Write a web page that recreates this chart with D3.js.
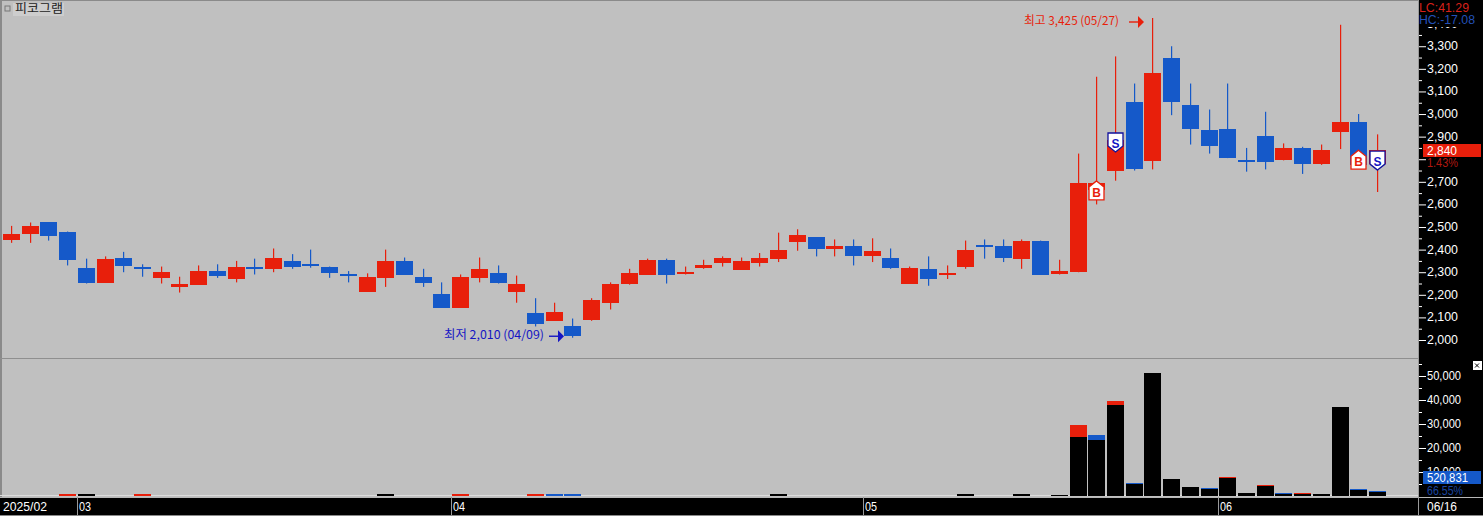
<!DOCTYPE html>
<html><head><meta charset="utf-8">
<style>html,body{margin:0;padding:0;background:#000;overflow:hidden}svg{display:block}
text{font-family:"Liberation Sans",Arial,sans-serif}</style>
<script src="https://cdn.jsdelivr.net/npm/d3@7"></script></head><body><svg id="c" width="1483" height="516"></svg>
<script>
const opens =[2445,2470,2520,2480,2320,2255,2365,2325,2275,2235,2245,2305,2270,2325,2315,2350,2335,2325,2290,2215,2275,2350,2280,2205,2145,2275,2295,2215,2120,2085,2060,2085,2165,2245,2290,2355,2290,2315,2345,2310,2345,2360,2435,2455,2400,2415,2375,2365,2250,2315,2285,2325,2420,2415,2360,2440,2290,2300,2665,2750,3055,2790,3250,3040,2930,2935,2795,2905,2795,2850,2780,2920,2965,2780];
const highs =[2505,2520,2520,2480,2360,2370,2390,2335,2325,2280,2330,2335,2350,2360,2405,2380,2400,2325,2305,2295,2400,2365,2315,2255,2290,2365,2330,2285,2185,2165,2095,2185,2255,2315,2360,2360,2325,2355,2370,2365,2385,2475,2490,2455,2445,2445,2450,2405,2325,2370,2330,2440,2445,2445,2445,2440,2355,2825,3165,3255,3135,3425,3300,3135,3020,3135,2850,3010,2870,2855,2865,3395,3000,2910];
const lows  =[2430,2430,2440,2330,2250,2255,2300,2280,2250,2210,2245,2275,2255,2290,2300,2315,2320,2275,2255,2215,2235,2290,2235,2145,2145,2255,2250,2165,2060,2085,2010,2085,2135,2245,2290,2250,2290,2315,2325,2310,2325,2345,2395,2370,2370,2330,2345,2315,2250,2240,2270,2315,2360,2345,2315,2290,2290,2300,2600,2705,2750,2755,2995,2865,2825,2805,2745,2755,2795,2735,2775,2845,2775,2655];
const closes=[2470,2505,2460,2355,2255,2360,2330,2315,2300,2250,2305,2285,2325,2320,2365,2325,2325,2300,2280,2280,2350,2290,2255,2145,2280,2315,2250,2250,2070,2125,2015,2175,2250,2295,2355,2290,2300,2330,2365,2350,2365,2400,2465,2400,2415,2370,2395,2320,2320,2270,2295,2400,2410,2360,2440,2290,2305,2695,2695,2885,2760,3180,3055,2935,2860,2805,2790,2790,2850,2780,2840,2965,2775,2840];
// volume in thousands: the lower (black) part and the full height with its coloured cap
const volumes=[0.1,0.1,0.1,0,0.8,0.1,0.1,0,0.1,0.1,0.1,0.1,0.1,0.1,0.1,0.1,0.1,0.1,0.1,0.1,0.8,0.1,0.1,0.1,0,0.1,0.1,0.1,0,0,0,0.1,0.1,0.1,0.1,0.1,0.1,0.1,0.1,0.1,0.1,0.8,0.1,0.1,0.1,0.1,0.1,0.1,0.1,0.1,0.1,0.8,0.1,0.1,0.8,0.1,0.4,24.6,23.3,37.9,5.0,51.2,7.1,3.75,2.9,7.4,1.25,4.1,0.8,0.8,0.85,37.1,2.5,1.7];
const volTotals=[0.1,0.1,0.1,0.8,0.8,0.1,0.1,0.8,0.1,0.1,0.1,0.1,0.1,0.1,0.1,0.1,0.1,0.1,0.1,0.1,0.8,0.1,0.1,0.1,0.8,0.1,0.1,0.1,0.8,0.8,0.8,0.1,0.1,0.1,0.1,0.1,0.1,0.1,0.1,0.1,0.1,0.8,0.1,0.1,0.1,0.1,0.1,0.1,0.1,0.1,0.1,0.8,0.1,0.1,0.8,0.1,0.4,29.6,25.4,39.6,5.5,51.2,7.1,3.75,3.35,7.9,1.25,4.6,1.25,1.25,0.85,37.1,2.95,2.15];
const capColors={3:"r",7:"r",24:"r",28:"r",29:"b",30:"b",57:"r",58:"b",59:"r",60:"b",64:"b",65:"r",67:"r",68:"b",69:"r",72:"b",73:"b"};
const priceTicks=[2000,2100,2200,2300,2400,2500,2600,2700,2800,2900,3000,3100,3200,3300,3400];
const priceMinor=[2050,2150,2250,2350,2450,2550,2650,2750,2850,2950,3050,3150,3250,3350];
const volTicks=[10000,20000,30000,40000,50000];
const volMinor=[5000,15000,25000,35000,45000,55000];
const monthIdx=[4,24,46,65];
const monthLabels=["03","04","05","06"];
const signals=[{i:58,t:"B",p:2704},{i:59,t:"S",p:2832},{i:72,t:"B",p:2840},{i:73,t:"S",p:2752}];

const W=1483,AX=1419;
const RED="#e81f0b",BLUE="#1559c9",NAVY="#1515c4";
const svg=d3.select("#c");
const x=d3.scalePoint().domain(d3.range(opens.length)).range([11,1377]);
const y=d3.scaleLinear().domain([2000,3425]).range([340,18]);
const yV=d3.scaleLinear().domain([0,50]).range([496,376]);
const yVt=d3.scaleLinear().domain([0,50000]).range([496,376]);
const T=(g,s,px,py,o={})=>{const e=g.append("text").attr("x",px).attr("y",py).attr("dy","0.35em").text(s)
  .attr("fill",o.fill||"#fff").attr("font-size",o.size||13);
  if(o.len)e.attr("textLength",o.len).attr("lengthAdjust","spacingAndGlyphs");
  if(o.family)e.style("font-family",o.family);if(o.weight)e.attr("font-weight",o.weight);return e;};
const R=(g,a,b,w,h,f)=>g.append("rect").attr("x",a).attr("y",b).attr("width",w).attr("height",h).attr("fill",f);

R(svg,0,0,W,516,"#000");
R(svg,0,0,AX-1,497,"#c0c0c0");
R(svg,0,0,AX-1,1,"#8a8a8a");
R(svg,0,0,2,497,"#8a8a8a");
R(svg,0,358,AX-1,1,"#8f8f8f");
R(svg,0,495,AX-1,1,"#dcdcdc");

// candles
const cg=svg.append("g");
const col=i=>closes[i]>=opens[i]?RED:BLUE;
const cx=i=>Math.round(x(i));
cg.selectAll(".w").data(d3.range(opens.length)).join("rect")
  .attr("x",cx).attr("width",1.2).attr("y",i=>y(highs[i])).attr("height",i=>y(lows[i])-y(highs[i])).attr("fill",col);
cg.selectAll(".b").data(d3.range(opens.length)).join("rect")
  .attr("x",i=>cx(i)-8).attr("width",17)
  .attr("y",i=>Math.round(y(Math.max(opens[i],closes[i]))))
  .attr("height",i=>Math.max(2,Math.round(Math.abs(y(opens[i])-y(closes[i])))))
  .attr("fill",col);

// volume
const vg=svg.append("g");
const vy=v=>Math.round(yV(v));
vg.selectAll(".c").data(d3.range(opens.length).filter(i=>capColors[i])).join("rect")
  .attr("x",i=>cx(i)-8).attr("width",17).attr("y",i=>vy(volTotals[i])).attr("height",i=>yV(0)-vy(volTotals[i]))
  .attr("fill",i=>capColors[i]==="r"?RED:BLUE);
vg.selectAll(".v").data(d3.range(opens.length).filter(i=>volumes[i]>=0.4)).join("rect")
  .attr("x",i=>cx(i)-8).attr("width",17).attr("y",i=>vy(volumes[i])).attr("height",i=>yV(0)-vy(volumes[i]))
  .attr("fill","#000");

// signals
signals.forEach(s=>{
  const px=cx(s.i)+0.5,py=y(s.p),g=svg.append("g"),buy=s.t==="B",h=7.5,d=buy?1:-1;
  const c=buy?RED:"#10109c";
  const pts=[[0,0],[h,6*d],[h,19*d],[-h,19*d],[-h,6*d]].map(p=>[px+p[0],py+p[1]]);
  g.append("path").attr("d",d3.line()(pts)+"Z").attr("fill","#fff").attr("stroke",c).attr("stroke-width",1.3);
  T(g,s.t,px,py+(buy?12:-8.5),{fill:buy?RED:"#1515c4",size:12,weight:"bold"}).attr("text-anchor","middle");
});

// annotations
const ann=(txt,tx,ty,len,ax0,ax1,ay,c)=>{
  T(svg,txt,tx,ty,{fill:c,size:12,len:len,family:"'Noto Sans CJK KR','Liberation Sans'"});
  svg.append("path").attr("d",d3.line()([[ax0,ay],[ax1-6,ay]])).attr("stroke",c).attr("stroke-width",1.4);
  svg.append("path").attr("d",d3.line()([[ax1-6,ay-6],[ax1,ay],[ax1-6,ay+6]])+"Z").attr("fill",c);
};
ann("최고 3,425 (05/27)",1024,21,95,1129,1144,y(3425)+4,RED);
ann("최저 2,010 (04/09)",444,335,100,549,564,y(2010)-1.5,NAVY);

// title
R(svg,13,3,51,13,"#cdcdcd");
R(svg,5,6,5,5,"#c0c0c0").attr("stroke","#777");
T(svg,"피코그램",15,9,{fill:"#222",size:12,len:48,family:"'Noto Sans CJK KR'"});

// right axes
const fmt=d3.format(",");
const axis=(scale,vals,minor,wid)=>{
  const a=svg.append("g").attr("transform",`translate(${AX},0)`);
  a.call(d3.axisRight(scale).tickValues(vals).tickFormat(v=>v===2800?"":fmt(v)).tickSize(7).tickPadding(1));
  a.select(".domain").remove();
  a.selectAll("line").attr("stroke","#fff");
  a.selectAll("text").attr("fill","#fff").attr("font-size",13).attr("dy","0.27em").style("font-family","'Liberation Sans'")
    .filter(v=>v!==2800).attr("textLength",wid).attr("lengthAdjust","spacingAndGlyphs");
  const m=svg.append("g").attr("transform",`translate(${AX},0)`);
  m.call(d3.axisRight(scale).tickValues(minor).tickFormat("").tickSize(3));
  m.select(".domain").remove();
  m.selectAll("line").attr("stroke","#fff");
};
axis(y,priceTicks,priceMinor,31);
axis(yVt,volTicks,volMinor,34);
R(svg,AX-1,0,1,497,"#9a9a9a");

// price readouts
R(svg,AX,0,W-AX,27,"#000");
T(svg,"LC:41.29",1419,8,{fill:"#d8201a",size:12.5,len:50});
T(svg,"HC:-17.08",1419,20,{fill:"#2350b8",size:12.5,len:56});
R(svg,1427,157,W-1427,12,"#000");
R(svg,1423,144,58,13,RED);
T(svg,"2,840",1427,150.5,{size:13,len:30});
T(svg,"1.43%",1427,162,{fill:"#b01810",size:13,len:31});

// volume readouts
R(svg,1427,484,W-1427,12,"#000");
R(svg,1423,471,58,13,BLUE);
T(svg,"520,831",1427,477.5,{size:13,len:41});
T(svg,"66.55%",1427,490,{fill:"#1a45a0",size:13,len:36});
R(svg,1473,361,9,9,"#fff");
svg.append("path").attr("d","M1475,363.5l4,4M1479,363.5l-4,4").attr("stroke","#000").attr("stroke-width",1);

// date strip
R(svg,0,497,W,1,"#b8b8b8");
R(svg,0,515,W,1,"#8a8a8a");
T(svg,"2025/02",3,506,{size:13,len:44});
const gx=svg.append("g");
monthIdx.forEach((m,k)=>{
  const px=cx(m)-9;
  R(gx,px,497,1,18,"#9a9a9a");
  T(gx,monthLabels[k],px+2,506,{size:13,len:12});
});
R(svg,AX-1,497,1,18,"#9a9a9a");
T(svg,"06/16",1427,506,{size:13,len:30});
</script></body></html>
